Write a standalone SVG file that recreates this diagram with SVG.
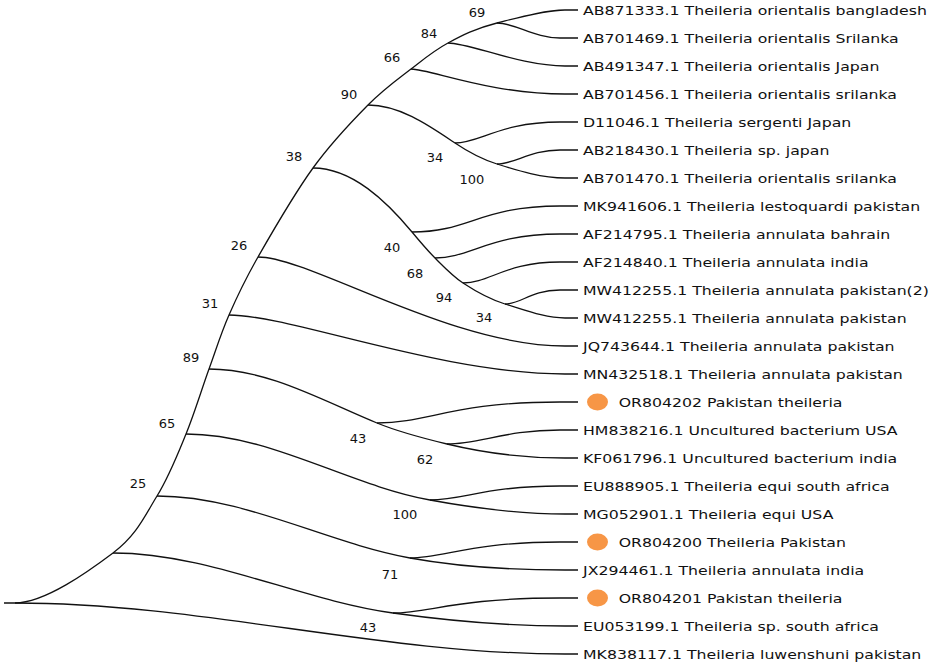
<svg xmlns="http://www.w3.org/2000/svg" width="935" height="665" viewBox="0 0 935 665">
<style>
.e{fill:none;stroke:#111;stroke-width:1.3;stroke-linejoin:round}
.bs{font-family:"DejaVu Sans",Verdana,sans-serif;font-size:13px;fill:#111;text-anchor:middle}
.lf{font-family:"DejaVu Sans",Verdana,sans-serif;font-size:12.8px;fill:#111;transform:scale(1.23,1)}
.dot{fill:#F79646}
</style>
<rect width="935" height="665" fill="#fff"/>
<g id="connectors">
<path class="e" d="M4,603 L15,603 C45,603 89.3,570.8 113,553 C136.7,535.2 144.8,515.8 157,496 C169.2,476.2 177.3,455.2 186,434 C194.7,412.8 201.8,388.8 209,369 C216.2,349.2 220.8,333.7 229,315 C237.2,296.3 244,281.5 258,257 C272,232.5 294.7,193.3 313,168 C331.3,142.7 351.7,121.5 368,105 C384.3,88.5 397.7,79.3 411,69 C424.3,58.7 433.7,50.7 448,43 C462.3,35.3 475.3,28.5 497,23 C518.7,17.5 545,10 565,10 L578,10"/>
<path class="e" d="M313,168 C352.3,168 386.8,201.7 412,232 C419.4,240.9 426.8,249.8 435,258 C443.8,266.8 452.6,276.1 463,283 C476.1,291.6 490,299.4 505,304 C524.6,309.9 545,318 565,318 L578,318"/>
<path class="e" d="M368,105 C399.7,105 428.7,125.3 455,143 C468,151.8 482.1,159.3 497,164 C518.9,170.9 542,178 565,178 L578,178"/>
<path class="e" d="M209,369 C267.8,369 322.6,400.7 377,423 C399.6,432.3 423.3,438.3 447,444 C485.4,453.3 525,458 565,458 L578,458"/>
<path class="e" d="M186,434 C270,434 347.4,484.9 430,500 C474.3,508.1 520,514 565,514 L578,514"/>
<path class="e" d="M157,496 C243.8,496 324.9,542.4 410,558 C460.8,567.3 513,570 565,570 L578,570"/>
<path class="e" d="M113,553 C208,553 299,599.7 393,613 C450,621 508,626 565,626 L578,626"/>
<path class="e" d="M15,603 C200,603 380,654 565,654 L578,654"/>
<path class="e" d="M258,257 C310,257 450,346 565,346 L578,346"/>
<path class="e" d="M229,315 C290,315 440,374 565,374 L578,374"/>
<path class="e" d="M411,69 C430,69 490,94 565,94 L578,94"/>
<path class="e" d="M448,43 C470,43 520,66 565,66 L578,66"/>
<path class="e" d="M497,23 C515,23 535,38 560,38 L578,38"/>
<path class="e" d="M455,143 C480,143 500,122 560,122 L578,122"/>
<path class="e" d="M497,164 C515,164 530,150 560,150 L578,150"/>
<path class="e" d="M412,232 C470,232 480,206 560,206 L578,206"/>
<path class="e" d="M435,258 C470,258 490,234 560,234 L578,234"/>
<path class="e" d="M463,283 C490,283 505,262 560,262 L578,262"/>
<path class="e" d="M505,304 C522,304 530,290 560,290 L578,290"/>
<path class="e" d="M377,423 C430,423 450,402 560,402 L578,402"/>
<path class="e" d="M447,444 C480,444 505,430 560,430 L578,430"/>
<path class="e" d="M430,500 C465,500 485,486 560,486 L578,486"/>
<path class="e" d="M410,558 C445,558 470,542 560,542 L578,542"/>
<path class="e" d="M393,613 C430,613 455,598 560,598 L578,598"/>
</g>
<g id="internal-nodes">
<g id="n69"><text class="bs" x="477" y="16.7">69</text></g>
<g id="n84"><text class="bs" x="429" y="37.7">84</text></g>
<g id="n66"><text class="bs" x="392" y="61.7">66</text></g>
<g id="n90"><text class="bs" x="349" y="98.7">90</text></g>
<g id="n38"><text class="bs" x="294" y="160.7">38</text></g>
<g id="n34a"><text class="bs" x="435" y="161.7">34</text></g>
<g id="n100a"><text class="bs" x="472" y="183.7">100</text></g>
<g id="n26"><text class="bs" x="239" y="249.7">26</text></g>
<g id="n40"><text class="bs" x="392" y="251.7">40</text></g>
<g id="n68"><text class="bs" x="415" y="277.7">68</text></g>
<g id="n94"><text class="bs" x="444" y="301.7">94</text></g>
<g id="n34b"><text class="bs" x="484" y="321.7">34</text></g>
<g id="n31"><text class="bs" x="210" y="307.7">31</text></g>
<g id="n89"><text class="bs" x="191" y="361.7">89</text></g>
<g id="n43a"><text class="bs" x="358" y="442.7">43</text></g>
<g id="n65"><text class="bs" x="167" y="427.7">65</text></g>
<g id="n62"><text class="bs" x="425" y="463.7">62</text></g>
<g id="n25"><text class="bs" x="138" y="487.7">25</text></g>
<g id="n100b"><text class="bs" x="405" y="518.7">100</text></g>
<g id="n71"><text class="bs" x="390" y="578.7">71</text></g>
<g id="n43b"><text class="bs" x="368" y="631.7">43</text></g>
</g>
<g id="leaves">
<g id="AB871333" transform="translate(583,10)"><text class="lf" y="4.6">AB871333.1 Theileria orientalis bangladesh</text></g>
<g id="AB701469" transform="translate(583,38)"><text class="lf" y="4.6">AB701469.1 Theileria orientalis Srilanka</text></g>
<g id="AB491347" transform="translate(583,66)"><text class="lf" y="4.6">AB491347.1 Theileria orientalis Japan</text></g>
<g id="AB701456" transform="translate(583,94)"><text class="lf" y="4.6">AB701456.1 Theileria orientalis srilanka</text></g>
<g id="D11046" transform="translate(583,122)"><text class="lf" y="4.6">D11046.1 Theileria sergenti Japan</text></g>
<g id="AB218430" transform="translate(583,150)"><text class="lf" y="4.6">AB218430.1 Theileria sp. japan</text></g>
<g id="AB701470" transform="translate(583,178)"><text class="lf" y="4.6">AB701470.1 Theileria orientalis srilanka</text></g>
<g id="MK941606" transform="translate(583,206)"><text class="lf" y="4.6">MK941606.1 Theileria lestoquardi pakistan</text></g>
<g id="AF214795" transform="translate(583,234)"><text class="lf" y="4.6">AF214795.1 Theileria annulata bahrain</text></g>
<g id="AF214840" transform="translate(583,262)"><text class="lf" y="4.6">AF214840.1 Theileria annulata india</text></g>
<g id="MW412255-2" transform="translate(583,290)"><text class="lf" y="4.6">MW412255.1 Theileria annulata pakistan(2)</text></g>
<g id="MW412255" transform="translate(583,318)"><text class="lf" y="4.6">MW412255.1 Theileria annulata pakistan</text></g>
<g id="JQ743644" transform="translate(583,346)"><text class="lf" y="4.6">JQ743644.1 Theileria annulata pakistan</text></g>
<g id="MN432518" transform="translate(583,374)"><text class="lf" y="4.6">MN432518.1 Theileria annulata pakistan</text></g>
<g id="OR804202" transform="translate(583,402)"><ellipse class="dot" cx="14.5" cy="0" rx="10.5" ry="8.5"/><text class="lf" x="29" y="4.6">OR804202 Pakistan theileria</text></g>
<g id="HM838216" transform="translate(583,430)"><text class="lf" y="4.6">HM838216.1 Uncultured bacterium USA</text></g>
<g id="KF061796" transform="translate(583,458)"><text class="lf" y="4.6">KF061796.1 Uncultured bacterium india</text></g>
<g id="EU888905" transform="translate(583,486)"><text class="lf" y="4.6">EU888905.1 Theileria equi south africa</text></g>
<g id="MG052901" transform="translate(583,514)"><text class="lf" y="4.6">MG052901.1 Theileria equi USA</text></g>
<g id="OR804200" transform="translate(583,542)"><ellipse class="dot" cx="14.5" cy="0" rx="10.5" ry="8.5"/><text class="lf" x="29" y="4.6">OR804200 Theileria Pakistan</text></g>
<g id="JX294461" transform="translate(583,570)"><text class="lf" y="4.6">JX294461.1 Theileria annulata india</text></g>
<g id="OR804201" transform="translate(583,598)"><ellipse class="dot" cx="14.5" cy="0" rx="10.5" ry="8.5"/><text class="lf" x="29" y="4.6">OR804201 Pakistan theileria</text></g>
<g id="EU053199" transform="translate(583,626)"><text class="lf" y="4.6">EU053199.1 Theileria sp. south africa</text></g>
<g id="MK838117" transform="translate(583,654)"><text class="lf" y="4.6">MK838117.1 Theileria luwenshuni pakistan</text></g>
</g>
</svg>
